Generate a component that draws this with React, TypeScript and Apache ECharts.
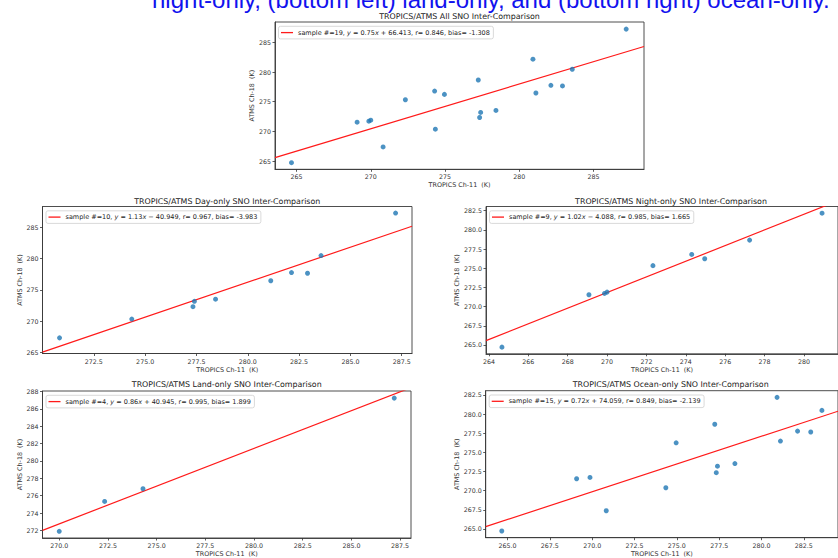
import React, { useEffect, useRef } from "react";
import * as echarts from "echarts";

const FONT = '"DejaVu Sans", sans-serif';

// ---- data ----
const allX = [264.66, 269.08, 269.87, 270.0, 270.83, 272.33, 274.3, 274.35, 274.96, 277.24, 277.33, 277.4, 278.43, 280.92, 281.12, 282.13, 282.91, 283.57, 287.2];
const allY = [264.72, 271.55, 271.72, 271.89, 267.37, 275.34, 276.8, 270.37, 276.24, 278.67, 272.34, 273.19, 273.53, 282.18, 276.47, 277.77, 277.66, 280.48, 287.25];

const dayX = [270.83, 274.35, 277.33, 277.4, 278.43, 281.12, 282.13, 282.91, 283.57, 287.2];
const dayY = [267.37, 270.37, 272.34, 273.19, 273.53, 276.47, 277.77, 277.66, 280.48, 287.25];

const nightX = [264.66, 269.08, 269.87, 270.0, 272.33, 274.3, 274.96, 277.24, 280.92];
const nightY = [264.72, 271.55, 271.72, 271.89, 275.34, 276.8, 276.24, 278.67, 282.18];

const landX = [270.0, 272.33, 274.3, 287.2];
const landY = [271.89, 275.34, 276.8, 287.25];

const oceanX = [264.66, 269.08, 269.87, 270.83, 274.35, 274.96, 277.24, 277.33, 277.4, 278.43, 280.92, 281.12, 282.13, 282.91, 283.57];
const oceanY = [264.72, 271.55, 271.72, 267.37, 270.37, 276.24, 278.67, 272.34, 273.19, 273.53, 282.18, 276.47, 277.77, 277.66, 280.48];

// fitted line end points (x0, x1) and (y0, y1)
const allFitX = [263.55, 288.4];
const allFitY = [265.56, 284.32];
const dayFitX = [270.0, 288.0];
const dayFitY = [265.1, 285.16];
const nightFitX = [263.85, 281.73];
const nightFitY = [265.56, 283.8];
const landFitX = [269.14, 288.06];
const landFitY = [272.0, 288.46];
const oceanFitX = [263.71, 284.52];
const oceanFitY = [265.29, 280.37];

// axis limits
const allXLim = [263.55, 288.4];
const allYLim = [263.6, 288.45];
const dayXLim = [270.0, 288.0];
const dayYLim = [264.88, 288.3];
const nightXLim = [263.85, 281.73];
const nightYLim = [263.85, 283.05];
const landXLim = [269.14, 288.06];
const landYLim = [271.12, 288.07];
const oceanXLim = [263.71, 284.52];
const oceanYLim = [263.85, 283.05];

// tick labels
const allXTicks = [265, 270, 275, 280, 285];
const allYTicks = [265, 270, 275, 280, 285];
const dayXTicks = [272.5, 275, 277.5, 280, 282.5, 285, 287.5];
const dayYTicks = [265, 270, 275, 280, 285];
const nightXTicks = [264, 266, 268, 270, 272, 274, 276, 278, 280];
const nightYTicks = [265, 267.5, 270, 272.5, 275, 277.5, 280, 282.5];
const landXTicks = [270, 272.5, 275, 277.5, 280, 282.5, 285, 287.5];
const landYTicks = [272, 274, 276, 278, 280, 282, 284, 286, 288];
const oceanXTicks = [265, 267.5, 270, 272.5, 275, 277.5, 280, 282.5];
const oceanYTicks = [265, 267.5, 270, 272.5, 275, 277.5, 280, 282.5];

// texts
const titles = [
  "TROPICS/ATMS All SNO Inter-Comparison",
  "TROPICS/ATMS Day-only SNO Inter-Comparison",
  "TROPICS/ATMS Night-only SNO Inter-Comparison",
  "TROPICS/ATMS Land-only SNO Inter-Comparison",
  "TROPICS/ATMS Ocean-only SNO Inter-Comparison",
];
const legendTexts = [
  "sample #=19, y = 0.75x + 66.413, r= 0.846, bias= -1.308",
  "sample #=10, y = 1.13x \u2212 40.949, r= 0.967, bias= -3.983",
  "sample #=9, y = 1.02x \u2212 4.088, r= 0.985, bias= 1.665",
  "sample #=4, y = 0.86x + 40.945, r= 0.995, bias= 1.899",
  "sample #=15, y = 0.72x + 74.059, r= 0.849, bias= -2.139",
];
const xName = "TROPICS Ch-11  (K)";
const yName = "ATMS Ch-18  (K)";
const headerText = "night-only, (bottom left) land-only, and (bottom right) ocean-only.";

// ---- layout ----
const panels = [
  { xs: allX, ys: allY, fx: allFitX, fy: allFitY, xl: allXLim, yl: allYLim, xt: allXTicks, yt: allYTicks, xd: 0, yd: 0, grid: { left: 275, top: 22, width: 369, height: 147.3 }, yGap: 17, titleY: 16 },
  { xs: dayX, ys: dayY, fx: dayFitX, fy: dayFitY, xl: dayXLim, yl: dayYLim, xt: dayXTicks, yt: dayYTicks, xd: 1, yd: 0, grid: { left: 42.5, top: 206.5, width: 369.5, height: 147 }, yGap: 18, titleY: 201 },
  { xs: nightX, ys: nightY, fx: nightFitX, fy: nightFitY, xl: nightXLim, yl: nightYLim, xt: nightXTicks, yt: nightYTicks, xd: 0, yd: 1, grid: { left: 486, top: 206.5, width: 370, height: 147.3 }, yGap: 24, titleY: 201 },
  { xs: landX, ys: landY, fx: landFitX, fy: landFitY, xl: landXLim, yl: landYLim, xt: landXTicks, yt: landYTicks, xd: 1, yd: 0, grid: { left: 42.5, top: 391, width: 368.5, height: 147.5 }, yGap: 18, titleY: 384.5 },
  { xs: oceanX, ys: oceanY, fx: oceanFitX, fy: oceanFitY, xl: oceanXLim, yl: oceanYLim, xt: oceanXTicks, yt: oceanYTicks, xd: 1, yd: 1, grid: { left: 485.7, top: 390.7, width: 370, height: 147 }, yGap: 24, titleY: 384.5 },
];

function richLabel(s: string) {
  const m = s.match(/^(.*?)y = ([\d.]+)x(.*)$/);
  if (!m) return `{n|${s}}`;
  return `{n|${m[1]}}{i|y}{n| = ${m[2]}}{i|x}{n|${m[3]}}`;
}

const TICK_COLOR = "#333";
const LABEL_COLOR = "#333";
const LEGEND_FS = 6.5;

function buildOption() {
  const grid: any[] = [];
  const xAxis: any[] = [];
  const yAxis: any[] = [];
  const series: any[] = [];
  const legend: any[] = [];
  const graphic: any[] = [];

  panels.forEach((p, i) => {
    grid.push({
      ...p.grid,
      show: true,
      borderColor: "#3a3a3a",
      borderWidth: 0.9,
      backgroundColor: "transparent",
      containLabel: false,
    });
    const common = {
      type: "value",
      gridIndex: i,
      splitLine: { show: false },
      axisLine: { show: true, lineStyle: { color: "#3a3a3a", width: 0.9 } },
      nameLocation: "middle",
      nameTextStyle: { fontFamily: FONT, fontSize: 6.4, color: LABEL_COLOR },
    };
    xAxis.push({
      ...common,
      min: p.xl[0],
      max: p.xl[1],
      axisTick: { show: true, length: 2.5, lineStyle: { color: TICK_COLOR, width: 0.8 }, customValues: p.xt },
      axisLabel: {
        customValues: p.xt,
        formatter: (v: number) => v.toFixed(p.xd),
        fontFamily: FONT,
        fontSize: 6.3,
        color: LABEL_COLOR,
        margin: 4.5,
      },
      name: xName,
      nameGap: 13,
    });
    yAxis.push({
      ...common,
      min: p.yl[0],
      max: p.yl[1],
      axisTick: { show: true, length: 2.5, lineStyle: { color: TICK_COLOR, width: 0.8 }, customValues: p.yt },
      axisLabel: {
        customValues: p.yt,
        formatter: (v: number) => v.toFixed(p.yd),
        fontFamily: FONT,
        fontSize: 6.3,
        color: LABEL_COLOR,
        margin: 4,
      },
      name: yName,
      nameGap: p.yGap,
    });
    series.push({
      type: "line",
      name: legendTexts[i],
      xAxisIndex: i,
      yAxisIndex: i,
      data: p.fx.map((x, k) => [x, p.fy[k]]),
      symbol: "none",
      clip: true,
      color: "#ff1a1a",
      itemStyle: { color: "#ff1a1a" },
      lineStyle: { color: "#ff1a1a", width: 1.2 },
      z: 2,
      silent: true,
    });
    series.push({
      type: "scatter",
      name: "pts" + i,
      xAxisIndex: i,
      yAxisIndex: i,
      data: p.xs.map((x, k) => [x, p.ys[k]]),
      symbol: "circle",
      symbolSize: 5,
      itemStyle: { color: "#1f77b4" },
      clip: true,
      z: 3,
      silent: true,
    });
    legend.push({
      data: [legendTexts[i]],
      selectedMode: false,
      left: p.grid.left + 3.5,
      top: p.grid.top + 4.3,
      orient: "horizontal",
      icon: "rect",
      itemWidth: 12,
      itemHeight: 1.3,
      itemGap: 0,
      padding: [2.8, 3.5, 2.8, 2.5],
      borderColor: "#cfcfcf",
      borderWidth: 0.8,
      borderRadius: 2,
      backgroundColor: "rgba(255,255,255,0.85)",
      formatter: (name: string) => richLabel(name),
      textStyle: {
        fontFamily: FONT,
        fontSize: LEGEND_FS,
        color: "#222",
        rich: {
          n: { fontFamily: FONT, fontSize: LEGEND_FS, color: "#222" },
          i: { fontFamily: FONT, fontSize: LEGEND_FS, color: "#222", fontStyle: "italic" },
        },
      },
    });
    graphic.push({
      type: "text",
      x: p.grid.left + p.grid.width / 2,
      y: p.titleY,
      silent: true,
      style: {
        text: titles[i],
        fontFamily: FONT,
        fontSize: 7.9,
        fill: "#222",
        align: "center",
        verticalAlign: "middle",
      },
    });
  });

  graphic.push({
    type: "text",
    x: 152,
    y: -1,
    silent: true,
    style: {
      text: headerText,
      fontFamily: '"Liberation Sans", Arial, sans-serif',
      fontSize: 24,
      fill: "#1212ee",
      align: "left",
      verticalAlign: "middle",
    },
  });

  return {
    animation: false,
    backgroundColor: "#ffffff",
    grid,
    xAxis,
    yAxis,
    series,
    legend,
    graphic,
  };
}

export default function App() {
  const ref = useRef<HTMLDivElement>(null);
  useEffect(() => {
    if (!ref.current) return;
    const chart = echarts.init(ref.current, undefined, { renderer: "svg" });
    chart.setOption(buildOption() as any);
    return () => chart.dispose();
  }, []);
  return (
    <div
      ref={ref}
      style={{ position: "fixed", left: 0, top: 0, width: 838, height: 558, background: "#fff", overflow: "hidden" }}
    />
  );
}
